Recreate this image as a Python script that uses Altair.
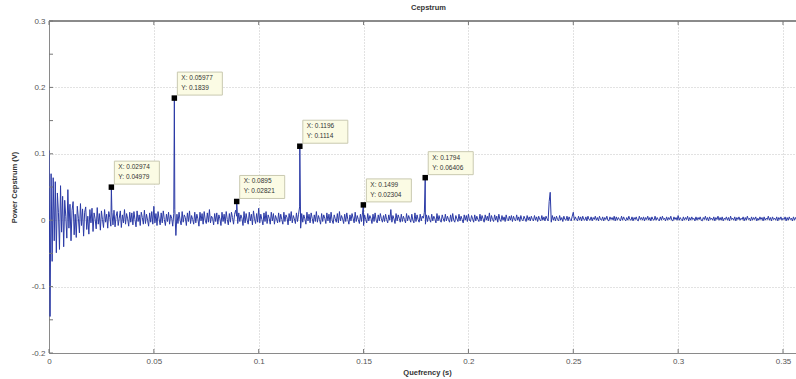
import altair as alt
import pandas as pd

# ---------------- data ----------------
step = 0.0005  # sample spacing of the cepstrum record (s)
noise = [
    0.105, -0.145, 0.070, -0.062, 0.064, -0.031, 0.058, -0.049, 0.041, 0.012, -0.044, 0.052, -0.018, 0.036, -0.040, 0.030, 0.006, -0.027, 0.046, -0.012,
    0.024, -0.031, 0.015, 0.028, -0.022, 0.009, -0.026, 0.021, 0.003, -0.019, 0.025, -0.008, 0.017, -0.024, 0.012, 0.020, -0.014, 0.006, -0.021, 0.016,
    -0.004, 0.018, -0.017, 0.011, 0.002, -0.013, 0.019, -0.006, 0.010, -0.015, 0.014, 0.001, -0.011, 0.016, -0.003, 0.009, -0.012, 0.013, 0.004, -0.009,
    0.012, -0.007, 0.015, -0.010, 0.006, 0.013, -0.008, 0.003, 0.014, -0.011, 0.008, -0.004, 0.016, -0.006, 0.010, 0.002, -0.009, 0.012, -0.003, 0.011,
    -0.007, 0.013, 0.001, -0.010, 0.014, -0.002, 0.008, -0.008, 0.012, 0.004, -0.006, 0.015, -0.005, 0.009, 0.000, -0.009, 0.011, -0.003, 0.013, -0.006,
    0.021, -0.004, 0.010, -0.008, 0.013, 0.002, -0.007, 0.011, -0.004, 0.014, 0.001, -0.008, 0.009, -0.002, 0.012, -0.006, 0.008, 0.003, -0.009, 0.010,
    0.016, -0.023, 0.009, -0.005, 0.012, 0.000, -0.007, 0.013, -0.003, 0.008, 0.004, -0.008, 0.011, -0.002, 0.014, -0.005, 0.007, 0.001, -0.006, 0.012,
    -0.004, 0.009, 0.002, -0.009, 0.012, -0.001, 0.010, -0.006, 0.013, 0.000, -0.005, 0.011, -0.003, 0.016, -0.004, 0.006, 0.003, -0.007, 0.010, -0.002,
    0.011, -0.006, 0.008, 0.002, -0.008, 0.012, -0.002, 0.009, -0.005, 0.013, 0.001, -0.007, 0.010, -0.003, 0.012, 0.004, -0.006, 0.009, 0.015, 0.006,
    -0.005, 0.011, -0.002, 0.008, 0.003, -0.008, 0.013, -0.004, 0.010, 0.000, -0.006, 0.012, -0.001, 0.009, -0.007, 0.014, 0.002, -0.005, 0.010, -0.003,
    0.018, -0.004, 0.009, 0.001, -0.007, 0.011, -0.002, 0.013, -0.005, 0.008, 0.003, -0.006, 0.012, -0.001, 0.010, -0.006, 0.007, 0.002, -0.004, 0.011,
    -0.003, 0.009, 0.001, -0.006, 0.012, -0.002, 0.008, 0.004, -0.007, 0.010, -0.001, 0.013, -0.004, 0.007, 0.002, -0.005, 0.011, -0.002, 0.009, 0.020,
    -0.012, 0.010, -0.003, 0.008, 0.002, -0.006, 0.012, -0.001, 0.009, -0.004, 0.011, 0.003, -0.005, 0.008, -0.002, 0.013, -0.003, 0.007, 0.001, -0.006,
    0.010, -0.002, 0.008, 0.003, -0.005, 0.011, -0.001, 0.009, -0.004, 0.012, 0.000, -0.005, 0.008, 0.002, -0.003, 0.010, -0.004, 0.013, -0.001, 0.007,
    0.002, -0.005, 0.009, -0.002, 0.011, 0.001, -0.006, 0.008, -0.001, 0.010, 0.003, -0.004, 0.012, -0.002, 0.007, 0.001, -0.005, 0.009, -0.002, 0.011,
    -0.008, 0.008, 0.001, -0.004, 0.010, -0.001, 0.007, 0.003, -0.005, 0.009, -0.002, 0.011, 0.000, -0.004, 0.008, -0.001, 0.010, 0.002, -0.003, 0.007,
    -0.002, 0.009, 0.001, -0.004, 0.008, 0.000, 0.016, -0.003, 0.007, 0.002, -0.005, 0.010, -0.001, 0.008, 0.003, -0.003, 0.009, -0.002, 0.006, 0.001,
    -0.004, 0.010, -0.001, 0.007, 0.002, -0.003, 0.009, 0.000, -0.004, 0.011, -0.002, 0.008, 0.001, -0.003, 0.009, -0.001, 0.006, 0.003, 0.012, -0.006,
    0.008, -0.002, 0.007, 0.001, -0.003, 0.009, -0.001, 0.006, 0.002, -0.004, 0.010, -0.001, 0.007, 0.000, -0.003, 0.008, 0.002, -0.002, 0.009, -0.001,
    0.006, 0.001, -0.003, 0.008, -0.002, 0.010, 0.000, -0.003, 0.007, 0.002, -0.002, 0.009, -0.001, 0.006, 0.001, -0.004, 0.008, 0.000, 0.007, -0.002,
    0.009, 0.000, -0.002, 0.007, 0.002, -0.003, 0.008, -0.001, 0.006, 0.001, -0.002, 0.009, -0.001, 0.007, 0.002, -0.003, 0.008, 0.000, 0.006, -0.001,
    0.011, -0.002, 0.007, 0.001, -0.002, 0.008, 0.000, 0.006, -0.003, 0.009, 0.001, -0.002, 0.007, 0.000, 0.005, -0.002, 0.008, 0.001, -0.001, 0.006,
    0.000, 0.007, -0.002, 0.006, 0.001, -0.001, 0.008, 0.000, 0.005, -0.002, 0.007, 0.001, -0.001, 0.006, 0.002, -0.002, 0.007, 0.000, 0.005, -0.001,
    0.006, 0.001, -0.001, 0.007, 0.000, 0.005, -0.002, 0.006, 0.001, -0.001, 0.007, 0.000, 0.005, -0.001, 0.006, 0.002, -0.001, 0.028, 0.042, -0.003,
    0.007, 0.000, 0.005, -0.001, 0.006, 0.001, -0.001, 0.007, 0.000, 0.004, -0.002, 0.006, 0.001, 0.000, 0.006, -0.001, 0.005, 0.001, -0.001, 0.006,
    0.012, 0.000, 0.005, 0.001, -0.001, 0.006, 0.000, 0.005, -0.001, 0.006, 0.001, 0.000, 0.005, -0.001, 0.006, 0.001, 0.000, 0.005, -0.001, 0.004,
    0.001, 0.006, 0.000, 0.004, -0.001, 0.006, 0.001, 0.000, 0.005, -0.001, 0.004, 0.001, 0.006, 0.000, -0.001, 0.005, 0.001, 0.004, 0.000, 0.006,
    -0.001, 0.005, 0.000, 0.004, 0.001, -0.001, 0.006, 0.000, 0.005, 0.001, -0.001, 0.004, 0.000, 0.006, 0.001, 0.000, 0.005, -0.001, 0.004, 0.001,
    0.005, 0.000, -0.001, 0.006, 0.001, 0.004, 0.000, 0.005, -0.001, 0.004, 0.001, 0.006, 0.000, 0.004, -0.001, 0.005, 0.001, 0.000, 0.006, 0.000,
    0.004, 0.001, -0.001, 0.005, 0.000, 0.006, 0.001, 0.003, -0.001, 0.005, 0.000, 0.004, 0.001, 0.006, 0.000, -0.001, 0.005, 0.001, 0.004, 0.000,
    0.007, 0.000, 0.004, 0.001, -0.001, 0.005, 0.000, 0.004, 0.001, 0.006, -0.001, 0.004, 0.000, 0.005, 0.001, 0.003, -0.001, 0.005, 0.000, 0.004,
    0.001, 0.005, 0.000, -0.001, 0.004, 0.001, 0.006, 0.000, 0.004, -0.001, 0.005, 0.001, 0.003, 0.000, 0.005, -0.001, 0.004, 0.001, 0.006, 0.000,
    0.004, 0.000, 0.005, -0.001, 0.003, 0.001, 0.005, 0.000, 0.004, -0.001, 0.006, 0.001, 0.003, 0.000, 0.005, -0.001, 0.004, 0.001, 0.005, 0.000,
    0.003, 0.001, 0.005, -0.001, 0.004, 0.000, 0.006, 0.001, 0.003, -0.001, 0.005, 0.000, 0.004, 0.001, 0.005, -0.001, 0.003, 0.000, 0.005, 0.001,
    0.004, -0.001, 0.005, 0.000, 0.003, 0.001, 0.006, 0.000, 0.004, -0.001, 0.005, 0.001, 0.003, 0.000, 0.005, -0.001, 0.004, 0.001, 0.005, 0.000,
    0.003, 0.001, 0.005, -0.001, 0.004, 0.000, 0.005, 0.001, 0.003, -0.001, 0.005, 0.000, 0.004, 0.001, 0.005, -0.001, 0.004, 0.000, 0.005, 0.001,
]
peak_x = [0.02974, 0.05977, 0.0895, 0.1196, 0.1499, 0.1794]
peak_y = [0.04979, 0.1839, 0.02821, 0.1114, 0.02304, 0.06406]
x_ticks = [0, 0.05, 0.1, 0.15, 0.2, 0.25, 0.3, 0.35]
y_ticks = [-0.2, -0.15, -0.1, -0.05, 0, 0.05, 0.1, 0.15, 0.2, 0.25, 0.3]

# ---------------- tables ----------------
line_df = pd.DataFrame({
    "q": [round(i * step, 5) for i in range(len(noise))] + peak_x,
    "v": noise + peak_y,
}).sort_values("q", kind="stable").reset_index(drop=True)

peaks_df = pd.DataFrame({
    "q": peak_x,
    "v": peak_y,
    "lx": ["X: " + str(v) for v in peak_x],
    "ly": ["Y: " + str(v) for v in peak_y],
})
xt_df = pd.DataFrame({"q": x_ticks})
yt_df = pd.DataFrame({"v": y_ticks})

W, H = 747, 332
FONT = "Liberation Sans"
BLUE = "#2b3aa6"

xs = alt.Scale(domain=[0, 0.3562], nice=False, zero=False)
ys = alt.Scale(domain=[-0.2, 0.3], nice=False, zero=False)

x_axis = alt.Axis(
    values=x_ticks, labelExpr="'' + datum.value", title="Quefrency (s)",
    titleFontWeight="bold", titleFontSize=7.5, titleFont=FONT, titleColor="#333",
    titleX=378, titlePadding=3,
    labelFont=FONT, labelFontSize=8, labelColor="#555", labelPadding=4,
    ticks=False, grid=True, gridColor="#c4c4c4", gridDash=[1, 2],
    domainColor="#8a8a8a", labelFlush=False,
)
y_axis = alt.Axis(
    values=y_ticks, labelExpr="'' + datum.value", title="Power Cepstrum (V)",
    titleFontWeight="bold", titleFontSize=7.5, titleFont=FONT, titleColor="#333",
    titleX=-35, titleBaseline="middle",
    labelFont=FONT, labelFontSize=8, labelColor="#555", labelPadding=4,
    ticks=False, grid=True, gridColor="#c4c4c4", gridDash=[1, 2],
    domainColor="#8a8a8a",
)

line = alt.Chart(line_df).mark_line(color=BLUE, strokeWidth=1, clip=True).encode(
    x=alt.X("q:Q", scale=xs, axis=x_axis),
    y=alt.Y("v:Q", scale=ys, axis=y_axis),
)

top_border = alt.Chart(xt_df).mark_rule(color="#8a8a8a", strokeWidth=1).encode(
    x=alt.value(0), x2=alt.value(W), y=alt.value(0)
)

xt_bottom = alt.Chart(xt_df).mark_rule(color="#777", strokeWidth=1).encode(
    x=alt.X("q:Q", scale=xs), y=alt.value(H), y2=alt.value(H - 4)
)
xt_top = alt.Chart(xt_df).mark_rule(color="#777", strokeWidth=1).encode(
    x=alt.X("q:Q", scale=xs), y=alt.value(0), y2=alt.value(4)
)
yt_left = alt.Chart(yt_df).mark_rule(color="#777", strokeWidth=1).encode(
    y=alt.Y("v:Q", scale=ys), x=alt.value(0), x2=alt.value(4)
)

boxes = alt.Chart(peaks_df).mark_rect(
    fill="#fbfbe4", stroke="#c9c9b0", strokeWidth=1,
    xOffset=3, x2Offset=48, yOffset=-26, y2Offset=-3,
).encode(
    x=alt.X("q:Q", scale=xs), x2="q:Q",
    y=alt.Y("v:Q", scale=ys), y2="v:Q",
)

txt_x = alt.Chart(peaks_df).mark_text(
    align="left", baseline="middle", dx=7, dy=-20, font=FONT, fontSize=6.5, color="#333"
).encode(x=alt.X("q:Q", scale=xs), y=alt.Y("v:Q", scale=ys), text="lx:N")
txt_y = alt.Chart(peaks_df).mark_text(
    align="left", baseline="middle", dx=7, dy=-10, font=FONT, fontSize=6.5, color="#333"
).encode(x=alt.X("q:Q", scale=xs), y=alt.Y("v:Q", scale=ys), text="ly:N")

markers = alt.Chart(peaks_df).mark_square(size=30, color="black", opacity=1).encode(
    x=alt.X("q:Q", scale=xs), y=alt.Y("v:Q", scale=ys)
)

chart = alt.layer(
    line, top_border, xt_bottom, xt_top, yt_left, boxes, txt_x, txt_y, markers
).properties(
    width=W, height=H,
    title=alt.TitleParams("Cepstrum", fontSize=7.5, fontWeight="bold", font=FONT,
                          color="#333", offset=6, dx=6),
    padding={"left": 49, "top": 21, "right": 0, "bottom": 26},
    autosize=alt.AutoSizeParams(type="none"),
).configure_view(stroke=None).configure(background="white")

chart.save("out.html", embed_options={"renderer": "svg", "actions": False})
